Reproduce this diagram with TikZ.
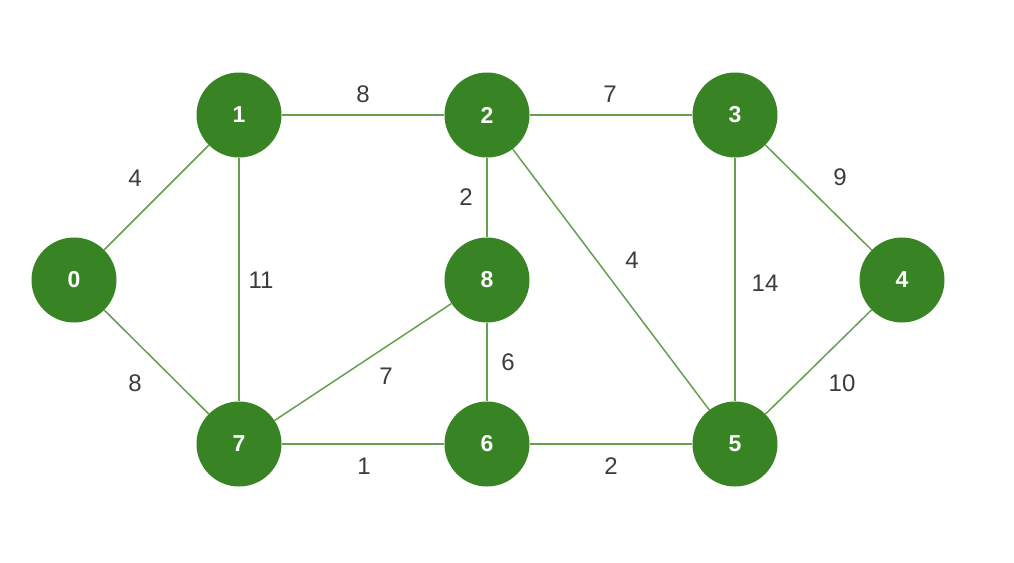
\documentclass[tikz,border=0pt]{standalone}
\usepackage{fontspec}
\setmainfont{Liberation Sans}
\definecolor{nodegreen}{RGB}{56,132,36}
\definecolor{edgegreen}{RGB}{100,160,80}
\definecolor{lbl}{RGB}{60,60,60}
\begin{document}
\begin{tikzpicture}[x=1pt,y=-1pt,
  vtx/.style={circle,fill=nodegreen,draw=none,minimum size=85pt,inner sep=0pt,text=white,font=\fontsize{23}{26}\selectfont\bfseries},
  edge/.style={draw=edgegreen,line width=1.5pt},
  wt/.style={text=lbl,font=\fontsize{24}{27}\selectfont,inner sep=0pt}]
\useasboundingbox (0,0) rectangle (1014,562);
\fill[white] (0,0) rectangle (1014,562);
\node[vtx] (n0) at (74,280) {0};
\node[vtx] (n1) at (239,115) {1};
\node[vtx] (n2) at (487,115) {2};
\node[vtx] (n3) at (735,115) {3};
\node[vtx] (n4) at (902,280) {4};
\node[vtx] (n5) at (735,444) {5};
\node[vtx] (n6) at (487,444) {6};
\node[vtx] (n7) at (239,444) {7};
\node[vtx] (n8) at (487,280) {8};
\draw[edge] (n0) -- (n1);
\draw[edge] (n0) -- (n7);
\draw[edge] (n1) -- (n2);
\draw[edge] (n1) -- (n7);
\draw[edge] (n2) -- (n3);
\draw[edge] (n2) -- (n8);
\draw[edge] (n2) -- (n5);
\draw[edge] (n3) -- (n5);
\draw[edge] (n3) -- (n4);
\draw[edge] (n4) -- (n5);
\draw[edge] (n8) -- (n7);
\draw[edge] (n8) -- (n6);
\draw[edge] (n7) -- (n6);
\draw[edge] (n6) -- (n5);
\node[wt] (w01) at (135,178) {4};
\node[wt] (w07) at (135,383) {8};
\node[wt] (w12) at (363,94) {8};
\node[wt] (w17) at (261,280) {11};
\node[wt] (w23) at (610,94) {7};
\node[wt] (w28) at (466,197) {2};
\node[wt] (w25) at (632,260) {4};
\node[wt] (w35) at (765,283) {14};
\node[wt] (w34) at (840,177) {9};
\node[wt] (w45) at (842,383) {10};
\node[wt] (w87) at (386,376) {7};
\node[wt] (w86) at (508,362) {6};
\node[wt] (w76) at (364,466) {1};
\node[wt] (w65) at (611,466) {2};
\end{tikzpicture}
\end{document}
